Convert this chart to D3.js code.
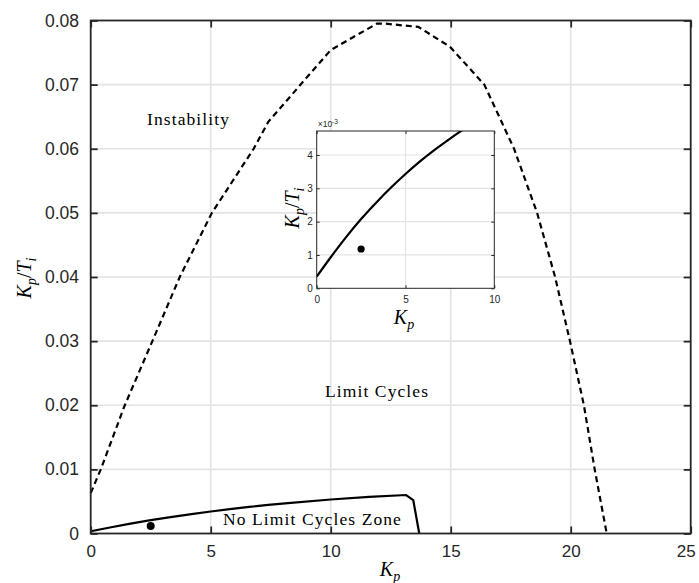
<!DOCTYPE html>
<html>
<head>
<meta charset="utf-8">
<script src="https://cdn.jsdelivr.net/npm/d3@7"></script>
<style>
  body { margin: 0; background: #fff; }
  .tick text { fill: #262626; font-family: "Liberation Sans", Arial, sans-serif; }
  .tick line { stroke: #262626; }
  .lbl { font-family: "Liberation Serif", serif; fill: #000; }
</style>
</head>
<body>
<script>
// stability boundary (dashed)
const kpDash = [0, 0.42, 1.42, 2.57, 3.71, 5.05, 6.79, 7.4, 8.86, 10, 11.92, 12.3, 13.65, 14.97, 16.4, 17.64, 18.6, 19.35, 19.97, 20.55, 21.0, 21.5];
const kiDash = [0.0063, 0.01, 0.02, 0.03, 0.04, 0.05, 0.06, 0.0642, 0.0705, 0.0754, 0.0795, 0.0795, 0.079, 0.0759, 0.07, 0.06, 0.05, 0.04, 0.03, 0.02, 0.01, 0.0];
// no limit cycle boundary (solid)
const kpSolid = [0, 0.8, 1.6, 2.5, 3.4, 4.2, 5.0, 5.8, 6.6, 7.4, 8.1, 10, 11.6, 13.14, 13.44, 13.69];
const kiSolid = [0.00035, 0.00094, 0.0015, 0.00208, 0.0026, 0.00303, 0.00343, 0.0038, 0.00414, 0.00445, 0.00471, 0.0053, 0.0057, 0.006, 0.0052, 0.0];
// operating point
const kpPoint = [2.5];
const kiPoint = [0.00118];

const xTicks = [0, 5, 10, 15, 20, 25];
const yTicks = [0, 0.01, 0.02, 0.03, 0.04, 0.05, 0.06, 0.07, 0.08];
const insetXTicks = [0, 5, 10];
const insetYTicks = [0, 1, 2, 3, 4]; // x 10^-3

const W = 699, H = 583;
const svg = d3.select('body').append('svg').attr('width', W).attr('height', H);

const x = d3.scaleLinear().domain([0, 25]).range([90.7, 690.7]);
const y = d3.scaleLinear().domain([0, 0.08]).range([533.5, 20.5]);

// grid
const grid = svg.append('g').attr('stroke', '#e3e3e3').attr('stroke-width', 1.6);
grid.selectAll('.gx').data(xTicks.slice(1, -1)).enter().append('line')
    .attr('x1', d => x(d)).attr('x2', d => x(d)).attr('y1', y(0)).attr('y2', y(0.08));
grid.selectAll('.gy').data(yTicks.slice(1, -1)).enter().append('line')
    .attr('y1', d => y(d)).attr('y2', d => y(d)).attr('x1', x(0)).attr('x2', x(25));

const dashData = kpDash.map((d, i) => [d, kiDash[i]]);
const solidData = kpSolid.map((d, i) => [d, kiSolid[i]]);
const line = d3.line().x(d => x(d[0])).y(d => y(d[1]));

svg.append('path').datum(dashData).attr('d', line)
    .attr('fill', 'none').attr('stroke', '#000').attr('stroke-width', 2.2)
    .attr('stroke-dasharray', '6,4');
svg.append('path').datum(solidData).attr('d', line)
    .attr('fill', 'none').attr('stroke', '#000').attr('stroke-width', 2.2);
svg.selectAll('.pt').data(kpPoint).enter().append('circle')
    .attr('cx', d => x(d)).attr('cy', (d, i) => y(kiPoint[i])).attr('r', 4).attr('fill', '#000');

// axes
const fmtY = d => d === 0 ? '0' : d.toFixed(2);
function styleAxis(g, size) {
    g.select('.domain').remove();
    g.selectAll('.tick line').attr('stroke-width', 1.8);
    g.selectAll('.tick text').style('font-size', size + 'px');
}
svg.append('g').attr('transform', `translate(0,${y(0)})`)
    .call(d3.axisBottom(x).tickValues(xTicks).tickSizeInner(-7).tickSizeOuter(0).tickPadding(11.5))
    .call(g => styleAxis(g, 17))
    .call(g => g.selectAll('.tick text').filter(d => d === 25).attr('dx', -5));
svg.append('g').attr('transform', `translate(0,${y(0.08)})`)
    .call(d3.axisTop(x).tickValues(xTicks).tickSizeInner(-7).tickSizeOuter(0).tickFormat(''))
    .call(g => styleAxis(g, 17));
svg.append('g').attr('transform', `translate(${x(0)},0)`)
    .call(d3.axisLeft(y).tickValues(yTicks).tickFormat(fmtY).tickSizeInner(-7).tickSizeOuter(0).tickPadding(11.7))
    .call(g => styleAxis(g, 17.5));
svg.append('g').attr('transform', `translate(${x(25)},0)`)
    .call(d3.axisRight(y).tickValues(yTicks).tickSizeInner(-7).tickSizeOuter(0).tickFormat(''))
    .call(g => styleAxis(g, 17.5));
svg.append('rect').attr('x', x(0)).attr('y', y(0.08))
    .attr('width', x(25) - x(0)).attr('height', y(0) - y(0.08))
    .attr('fill', 'none').attr('stroke', '#262626').attr('stroke-width', 1.8);

// math label helper: K_p/T_i or K_p
function mathLabel(sel, withTi, size) {
    const sub = size * 0.7, shift = size * 0.25;
    sel.append('tspan').attr('font-style', 'italic').text('K');
    sel.append('tspan').attr('font-style', 'italic').attr('font-size', sub).attr('dy', shift).text('p');
    if (withTi) {
        sel.append('tspan').attr('dy', -shift).text('/');
        sel.append('tspan').attr('font-style', 'italic').text('T');
        sel.append('tspan').attr('font-style', 'italic').attr('font-size', sub).attr('dy', shift).text('i');
    }
}

svg.append('text').attr('class', 'lbl').attr('text-anchor', 'middle')
    .attr('x', 390).attr('y', 576).attr('font-size', 20)
    .call(s => mathLabel(s, false, 20));
svg.append('text').attr('class', 'lbl').attr('text-anchor', 'middle')
    .attr('transform', 'translate(31,278) rotate(-90)').attr('font-size', 20)
    .call(s => mathLabel(s, true, 20));

// region labels
const regions = [
    {t: 'Instability', x: 147, y: 125},
    {t: 'Limit Cycles', x: 325, y: 397},
    {t: 'No Limit Cycles Zone', x: 223, y: 525}
];
svg.selectAll('.reg').data(regions).enter().append('text').attr('class', 'lbl')
    .attr('x', d => d.x).attr('y', d => d.y).attr('font-size', 17.5)
    .attr('letter-spacing', 1.1).text(d => d.t);

// inset
const ix = d3.scaleLinear().domain([0, 10]).range([316.7, 494.3]);
const iy = d3.scaleLinear().domain([0, 4.72]).range([288.3, 131]);
const inset = svg.append('g');
inset.append('rect').attr('x', ix(0)).attr('y', iy(4.72))
    .attr('width', ix(10) - ix(0)).attr('height', iy(0) - iy(4.72)).attr('fill', '#fff');
const ig = inset.append('g').attr('stroke', '#e3e3e3').attr('stroke-width', 1.2);
ig.selectAll('line.a').data([5]).enter().append('line')
    .attr('x1', d => ix(d)).attr('x2', d => ix(d)).attr('y1', iy(0)).attr('y2', iy(4.72));
ig.selectAll('line.b').data(insetYTicks.slice(1)).enter().append('line')
    .attr('y1', d => iy(d)).attr('y2', d => iy(d)).attr('x1', ix(0)).attr('x2', ix(10));

svg.append('clipPath').attr('id', 'iclip').append('rect')
    .attr('x', ix(0)).attr('y', iy(4.72)).attr('width', ix(10) - ix(0)).attr('height', iy(0) - iy(4.72));
const iline = d3.line().curve(d3.curveMonotoneX).x(d => ix(d[0])).y(d => iy(d[1] * 1000));
inset.append('path').datum(solidData.slice(0, 13)).attr('d', iline).attr('clip-path', 'url(#iclip)')
    .attr('fill', 'none').attr('stroke', '#000').attr('stroke-width', 2.2);
inset.selectAll('.ipt').data(kpPoint).enter().append('circle')
    .attr('cx', d => ix(d)).attr('cy', (d, i) => iy(kiPoint[i] * 1000)).attr('r', 3.6).attr('fill', '#000');

function styleInset(g) {
    g.select('.domain').remove();
    g.selectAll('.tick line').attr('stroke-width', 1);
    g.selectAll('.tick text').style('font-size', '10px');
}
inset.append('g').attr('transform', `translate(0,${iy(0)})`)
    .call(d3.axisBottom(ix).tickValues(insetXTicks).tickFormat(d3.format('d')).tickSizeInner(-3).tickSizeOuter(0).tickPadding(8))
    .call(styleInset);
inset.append('g').attr('transform', `translate(0,${iy(4.72)})`)
    .call(d3.axisTop(ix).tickValues(insetXTicks).tickSizeInner(-3).tickSizeOuter(0).tickFormat(''))
    .call(styleInset);
inset.append('g').attr('transform', `translate(${ix(0)},0)`)
    .call(d3.axisLeft(iy).tickValues(insetYTicks).tickFormat(d3.format('d')).tickSizeInner(-3).tickSizeOuter(0).tickPadding(4))
    .call(styleInset);
inset.append('g').attr('transform', `translate(${ix(10)},0)`)
    .call(d3.axisRight(iy).tickValues(insetYTicks).tickSizeInner(-3).tickSizeOuter(0).tickFormat(''))
    .call(styleInset);
inset.append('rect').attr('x', ix(0)).attr('y', iy(4.72))
    .attr('width', ix(10) - ix(0)).attr('height', iy(0) - iy(4.72))
    .attr('fill', 'none').attr('stroke', '#262626').attr('stroke-width', 1);

const exp = inset.append('text').attr('x', ix(0) + 1).attr('y', iy(4.72) - 4)
    .attr('fill', '#262626').attr('font-family', 'Liberation Sans, sans-serif').attr('font-size', 8.5);
exp.append('tspan').text('\u00d710');
exp.append('tspan').attr('font-size', 6.5).attr('dy', -3).text('-3');

inset.append('text').attr('class', 'lbl').attr('text-anchor', 'middle')
    .attr('x', 404).attr('y', 324).attr('font-size', 20)
    .call(s => mathLabel(s, false, 20));
inset.append('text').attr('class', 'lbl').attr('text-anchor', 'middle')
    .attr('transform', 'translate(299,208) rotate(-90)').attr('font-size', 20)
    .call(s => mathLabel(s, true, 20));
</script>
</body>
</html>
